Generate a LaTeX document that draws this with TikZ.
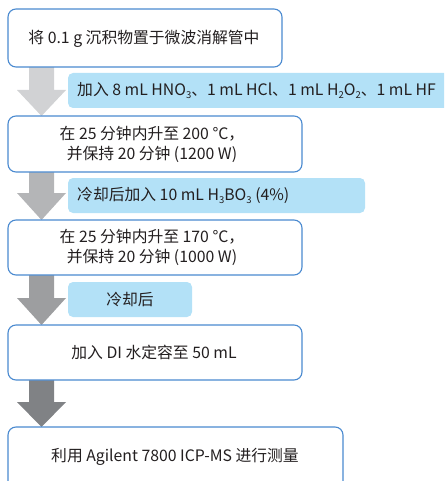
\documentclass[tikz,border=0pt]{standalone}
\usepackage{fontspec}
\setmainfont{Noto Sans CJK SC}
\definecolor{boxblue}{HTML}{4A8AD0}
\definecolor{lblblue}{HTML}{B3E1F7}
\definecolor{arrA}{HTML}{D1D2D4}
\definecolor{arrB}{HTML}{B4B5B7}
\definecolor{arrC}{HTML}{9D9EA0}
\definecolor{arrD}{HTML}{808285}
\definecolor{txt}{HTML}{231F20}
\newcommand{\chsub}[1]{\raisebox{-0.35ex}{\fontsize{9.5}{9.5}\selectfont #1}}
\tikzset{
  stepbox/.style={draw=boxblue, line width=1.1pt, rounded corners=8pt, fill=white},
  lblbox/.style={fill=lblblue, rounded corners=5pt},
  stxt/.style={font=\fontsize{15.8}{20}\selectfont, text=txt, align=center, inner sep=0pt},
}
\newcommand{\bigarrow}[4]{% color, ytop, yhead, ytip
  \fill[#1] (29,#2) -- (54,#2) -- (54,#3) -- (66,#3) -- (41.5,#4) -- (17,#3) -- (29,#3) -- cycle;}
\begin{document}
\begin{tikzpicture}[x=1pt,y=-1pt]
\useasboundingbox (0,0) rectangle (444,481);
\begin{scope}
\clip (0,0) rectangle (444,481);
% arrows
\bigarrow{arrA}{67}{90}{116}
\bigarrow{arrB}{172}{193}{220}
\bigarrow{arrC}{275}{298}{325}
\bigarrow{arrD}{380}{402}{427}
% labels
\fill[lblblue, rounded corners=5pt] (68,73) rectangle (450,108);
\node[stxt, anchor=west] (l1) at (77,90.5) {加入 8 mL HNO\chsub{3}、1 mL HCl、1 mL H\chsub{2}O\chsub{2}、1 mL HF};
\fill[lblblue, rounded corners=5pt] (68,178) rectangle (365,213);
\node[stxt, anchor=west] (l2) at (77,195.5) {冷却后加入 10 mL H\chsub{3}BO\chsub{3} (4\%)};
\fill[lblblue, rounded corners=5pt] (68,282) rectangle (192,317);
\node[stxt] (l3) at (130,299.5) {冷却后};
% boxes
\draw[stepbox] (8,9) rectangle (282,67);
\node[stxt] (b1) at (144,38.5) {将 0.1 g 沉积物置于微波消解管中};
\draw[stepbox] (8,116) rectangle (302,172);
\node[stxt] (b2) at (152,144.5) {在 25 分钟内升至 200 °C，\\并保持 20 分钟 (1200 W)};
\draw[stepbox] (8,220) rectangle (302,275);
\node[stxt] (b3) at (152,247.5) {在 25 分钟内升至 170 °C，\\并保持 20 分钟 (1000 W)};
\draw[stepbox] (8,325) rectangle (302,380);
\node[stxt] (b4) at (154,352.5) {加入 DI 水定容至 50 mL};
\draw[stepbox] (8,427) rectangle (343,492);
\node[stxt] (b5) at (175,457) {利用 Agilent 7800 ICP-MS 进行测量};
\end{scope}
\end{tikzpicture}
\end{document}
